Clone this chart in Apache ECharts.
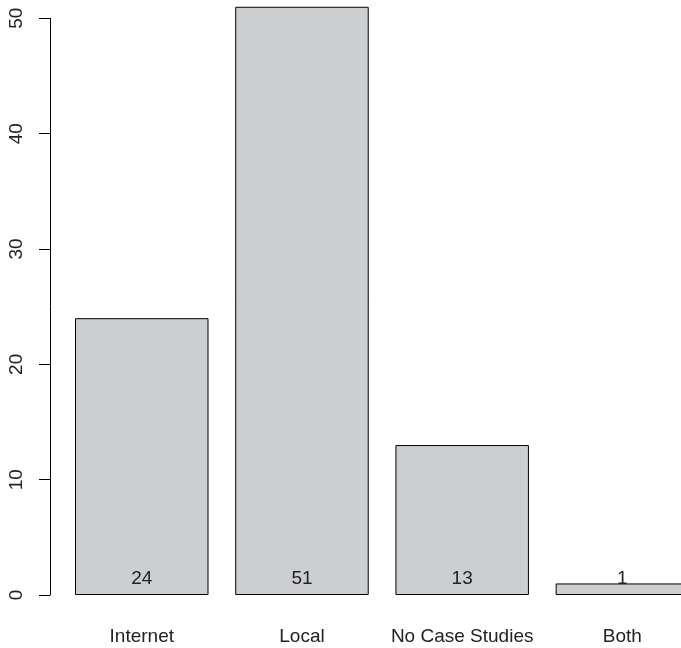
<!DOCTYPE html>
<html>
<head>
<meta charset="utf-8">
<script src="https://cdn.jsdelivr.net/npm/echarts@6/dist/echarts.min.js"></script>
<style>
  html, body { margin: 0; padding: 0; background: #fff; overflow: hidden; }
  /* the plot region runs past the right edge of the window, so the last bar is cut off */
  #chart { width: 703px; height: 648px; }
</style>
</head>
<body>
<div id="chart"></div>
<script>
// Case study sources: counts per category
const categories = ['Internet', 'Local', 'No Case Studies', 'Both'];
const counts = [24, 51, 13, 1];
const yTicks = [0, 10, 20, 30, 40, 50];

const FONT = '"Liberation Sans", Arial, Helvetica, sans-serif';

const chart = echarts.init(document.getElementById('chart'), null, { renderer: 'canvas' });

chart.setOption({
  animation: false,
  backgroundColor: '#ffffff',
  grid: {
    left: 61.65,
    right: 0.5,
    top: 18.3,
    bottom: 53,
    containLabel: false
  },
  xAxis: {
    type: 'category',
    data: categories,
    axisLine: { show: false },
    axisTick: { show: false },
    axisLabel: {
      color: '#222',
      fontFamily: FONT,
      fontSize: 19,
      margin: 32.5,
      interval: 0
    },
    splitLine: { show: false }
  },
  yAxis: {
    type: 'value',
    min: yTicks[0],
    max: yTicks[yTicks.length - 1],
    interval: 10,
    offset: 11.65,
    axisLine: { show: true, lineStyle: { color: '#000', width: 1 } },
    axisTick: { show: true, length: 11, lineStyle: { color: '#000', width: 1 } },
    axisLabel: {
      color: '#222',
      fontFamily: FONT,
      fontSize: 19,
      rotate: 90,
      margin: 24
    },
    splitLine: { show: false }
  },
  series: [{
    type: 'bar',
    data: counts,
    clip: false,
    barCategoryGap: '16.67%',
    itemStyle: {
      color: '#cdced0',
      borderColor: '#000',
      borderWidth: 1
    },
    label: {
      show: true,
      position: 'insideBottom',
      distance: 6.5,
      color: '#222',
      fontFamily: FONT,
      fontSize: 19
    }
  }]
});
</script>
</body>
</html>
